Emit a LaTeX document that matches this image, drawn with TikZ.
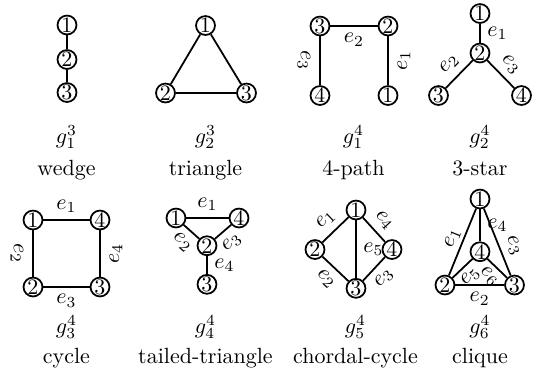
\documentclass[tikz,border=0pt]{standalone}
\usepackage{amsmath}
\usetikzlibrary{positioning}
\tikzset{
  glvert/.style={circle, draw, thick, inner sep=0pt, minimum size=8.6pt},
  gledge/.style={thick},
  gllab/.style={inner sep=3pt},
  glcap/.style={anchor=base, inner sep=0pt}
}

\begin{document}
\begin{tikzpicture}[x=0.4545pt, y=-0.4545pt]
  \useasboundingbox (0,0) rectangle (538,377);
  % wedge
  \node[glvert] (w1) at (67,25) {1};
  \node[glvert] (w2) at (67,59.5) {2};
  \node[glvert] (w3) at (67,92.5) {3};
  \draw[gledge] (w1) -- (w2) -- (w3);
  \node[glcap] (wg) at (66.5,143.5) {$g^3_1$};
  \node[glcap] (wn) at (66.5,175) {wedge};
  % triangle
  \node[glvert] (t1) at (205.5,25.5) {1};
  \node[glvert] (t2) at (165.5,93) {2};
  \node[glvert] (t3) at (246.5,93) {3};
  \draw[gledge] (t1) -- (t2) -- (t3) -- (t1);
  \node[glcap] (tg) at (205.5,143.5) {$g^3_2$};
  \node[glcap] (tn) at (205.5,175) {triangle};
  % 4-path
  \node[glvert] (p3) at (320,26) {3};
  \node[glvert] (p2) at (388,26) {2};
  \node[glvert] (p4) at (320,95.5) {4};
  \node[glvert] (p1) at (388,95.5) {1};
  \draw[gledge] (p1) -- node[gllab, sloped, below=1pt] (pe1) {$e_1$} (p2);
  \draw[gledge] (p3) -- node[gllab, below] (pe2) {$e_2$} (p2);
  \draw[gledge] (p3) -- node[gllab, sloped, below=1pt] (pe3) {$e_3$} (p4);
  \node[glcap] (pg) at (353.5,143.5) {$g^4_1$};
  \node[glcap] (pn) at (353.5,175) {4-path};
  % 3-star
  \node[glvert] (s1) at (480,13.5) {1};
  \node[glvert] (s2) at (480,53) {2};
  \node[glvert] (s3) at (438.5,95.5) {3};
  \node[glvert] (s4) at (521.5,95.5) {4};
  \draw[gledge] (s1) -- node[gllab, right] (se1) {$e_1$} (s2);
  \draw[gledge] (s3) -- node[gllab, sloped, above] (se2) {$e_2$} (s2);
  \draw[gledge] (s2) -- node[gllab, sloped, above] (se3) {$e_3$} (s4);
  \node[glcap] (sg) at (480,143.5) {$g^4_2$};
  \node[glcap] (sn) at (480,175) {3-star};
  % cycle
  \node[glvert] (c1) at (33,220) {1};
  \node[glvert] (c4) at (100,220) {4};
  \node[glvert] (c2) at (33,287) {2};
  \node[glvert] (c3) at (100,287) {3};
  \draw[gledge] (c1) -- node[gllab, above] (ce1) {$e_1$} (c4);
  \draw[gledge] (c1) -- node[gllab, sloped, below=1pt] (ce2) {$e_2$} (c2);
  \draw[gledge] (c2) -- node[gllab, below] (ce3) {$e_3$} (c3);
  \draw[gledge] (c3) -- node[gllab, sloped, below=1pt] (ce4) {$e_4$} (c4);
  \node[glcap] (cg) at (66.5,333) {$g^4_3$};
  \node[glcap] (cn) at (66.5,363) {cycle};
  % tailed-triangle
  \node[glvert] (a1) at (176,218) {1};
  \node[glvert] (a4) at (239,218) {4};
  \node[glvert] (a2) at (207,245.7) {2};
  \node[glvert] (a3) at (207,284.3) {3};
  \draw[gledge] (a1) -- node[gllab, above] (ae1) {$e_1$} (a4);
  \draw[gledge] (a1) -- node[gllab, sloped, below] (ae2) {$e_2$} (a2);
  \draw[gledge] (a2) -- node[gllab, sloped, below] (ae3) {$e_3$} (a4);
  \draw[gledge] (a2) -- node[gllab, right] (ae4) {$e_4$} (a3);
  \node[glcap] (ag) at (205.5,333) {$g^4_4$};
  \node[glcap] (an) at (205.5,363) {tailed-triangle};
  % chordal-cycle
  \node[glvert] (h1) at (356,210) {1};
  \node[glvert] (h2) at (315,249.5) {2};
  \node[glvert] (h3) at (356,288.3) {3};
  \node[glvert] (h4) at (392,249.5) {4};
  \draw[gledge] (h2) -- node[gllab, sloped, above] (he1) {$e_1$} (h1);
  \draw[gledge] (h2) -- node[gllab, sloped, below] (he2) {$e_2$} (h3);
  \draw[gledge] (h3) -- node[gllab, sloped, below] (he3) {$e_3$} (h4);
  \draw[gledge] (h1) -- node[gllab, sloped, above] (he4) {$e_4$} (h4);
  \draw[gledge] (h1) -- node[gllab, right] (he5) {$e_5$} (h3);
  \node[glcap] (hg) at (355.5,333) {$g^4_5$};
  \node[glcap] (hn) at (355.5,363) {chordal-cycle};
  % clique
  \node[glvert] (q1) at (480,199) {1};
  \node[glvert] (q4) at (480,251.7) {4};
  \node[glvert] (q2) at (445,285) {2};
  \node[glvert] (q3) at (514.5,285) {3};
  \draw[gledge] (q2) -- node[gllab, sloped, above=-1.5pt] (qe1) {$e_1$} (q1);
  \draw[gledge] (q2) -- node[gllab, below] (qe2) {$e_2$} (q3);
  \draw[gledge] (q1) -- node[gllab, pos=0.63, sloped, above] (qe3) {$e_3$} (q3);
  \draw[gledge] (q1) -- node[gllab, right] (qe4) {$e_4$} (q4);
  \draw[gledge] (q2) -- node[gllab, sloped, below=-1pt] (qe5) {$e_5$} (q4);
  \draw[gledge] (q4) -- node[gllab, sloped, below=-1pt] (qe6) {$e_6$} (q3);
  \node[glcap] (qg) at (480,333) {$g^4_6$};
  \node[glcap] (qn) at (480,363) {clique};
\end{tikzpicture}
\end{document}
